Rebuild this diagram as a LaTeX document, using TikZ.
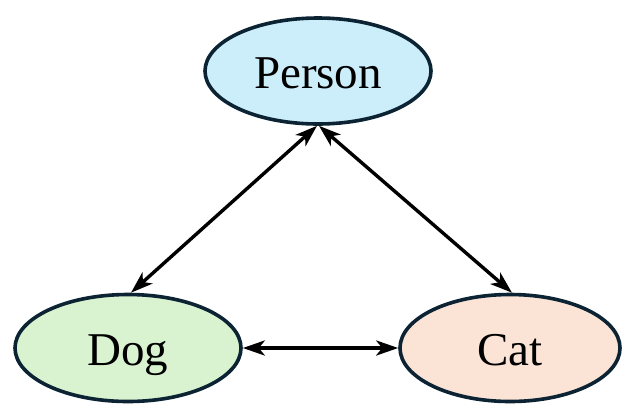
\documentclass[tikz,border=0pt]{standalone}
\usepackage{fontspec}
\setmainfont{Liberation Serif}
\usetikzlibrary{shapes.geometric,arrows.meta}
\definecolor{edgecol}{HTML}{0B2333}
\definecolor{personfill}{HTML}{CCEEFB}
\definecolor{dogfill}{HTML}{D9F2D0}
\definecolor{catfill}{HTML}{FBE3D6}
\tikzset{
  ent/.style={ellipse, draw=edgecol, line width=3.6pt, inner sep=0pt,
    text height=35pt, text depth=0pt,
    font=\fontsize{47}{56}\selectfont, text=black},
  link/.style={line width=3.4pt, draw=black,
    {Stealth[length=22pt,width=15pt,inset=6pt]}-{Stealth[length=22pt,width=15pt,inset=6pt]}}
}
\begin{document}
\begin{tikzpicture}[x=1pt,y=1pt]
\useasboundingbox (0,0) rectangle (623,-405);
\node[ent, fill=personfill, minimum width=226pt, minimum height=106pt] (P) at (318,-71) {Person};
\node[ent, fill=dogfill, minimum width=226pt, minimum height=107pt] (D) at (128,-348) {Dog};
\node[ent, fill=catfill, minimum width=220pt, minimum height=107pt] (C) at (510,-348) {Cat};
\draw[link] ([xshift=-1pt]P.south) -- ([xshift=3pt]D.north);
\draw[link] ([xshift=1pt]P.south) -- ([xshift=2pt]C.north);
\draw[link] (D.east) -- (C.west);
\end{tikzpicture}
\end{document}
